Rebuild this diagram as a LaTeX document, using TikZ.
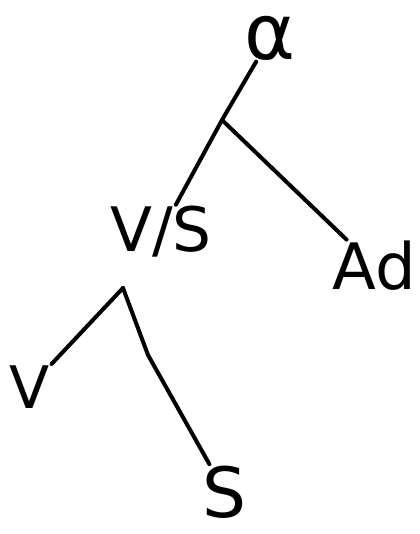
\documentclass[tikz,border=0pt]{standalone}
\usepackage{fontspec}
\setmainfont{DejaVu Sans}
\usetikzlibrary{positioning}
\tikzset{
  lbl/.style={inner sep=1pt,font=\fontsize{48}{52}\selectfont},
  branch/.style={line width=3pt,line cap=round}
}

\begin{document}
\begin{tikzpicture}[x=0.75pt,y=-0.75pt]
  \useasboundingbox (0,0) rectangle (420,534);
  % labels
  \node[lbl,font=\fontsize{58}{62}\selectfont] (top) at (270,38) {α};
  \node[lbl,font=\fontsize{46}{50}\selectfont] (vs) at (161,232) {V/S};
  \node[lbl] (ad) at (374,266) {Ad};
  \node[lbl,font=\fontsize{44}{48}\selectfont] (v) at (30,387) {V};
  \node[lbl,font=\fontsize{52}{56}\selectfont] (s) at (225,492) {S};
  % junctions
  \coordinate (j1) at (222,120);
  \coordinate (j2) at (123,288);
  \coordinate (bend) at (148,355);
  % branches
  \draw[branch] (top) -- (j1) -- (vs);
  \draw[branch] (j1) -- (ad);
  \draw[branch] (j2) -- (v);
  \draw[branch] (j2) -- (bend) -- (s);
\end{tikzpicture}
\end{document}
